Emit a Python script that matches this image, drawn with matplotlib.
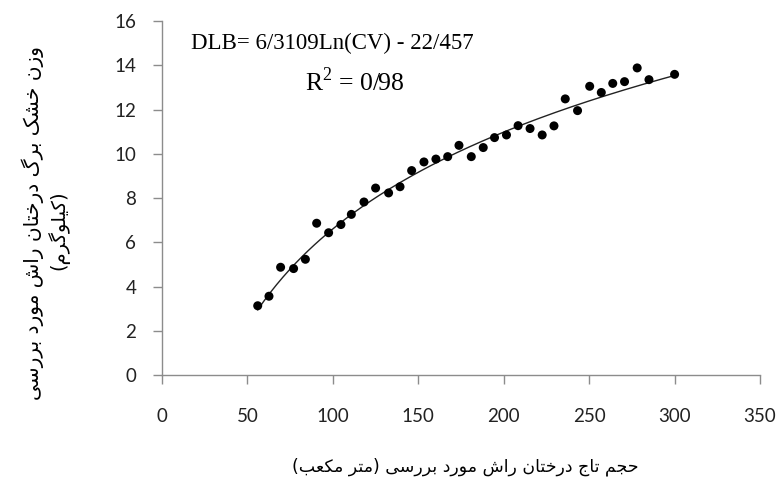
import numpy as np
import matplotlib
matplotlib.use("Agg")
import matplotlib.pyplot as plt

# crown volume (m3) and leaf dry weight (kg)
CV = [56.0, 62.6, 69.4, 77.0, 83.9, 90.5, 97.5, 104.7, 110.8, 118.2,
      125.0, 132.6, 139.3, 146.1, 153.3, 160.3, 167.2, 173.8, 181.0, 188.0,
      194.6, 201.6, 208.4, 215.4, 222.5, 229.4, 236.0, 243.2, 250.3, 257.1,
      263.8, 270.7, 278.1, 285.0, 300.0]
DLB = [3.13, 3.56, 4.87, 4.81, 5.23, 6.86, 6.43, 6.80, 7.26, 7.82,
       8.45, 8.23, 8.51, 9.24, 9.63, 9.76, 9.87, 10.38, 9.87, 10.28,
       10.73, 10.85, 11.27, 11.14, 10.85, 11.26, 12.48, 11.95, 13.05, 12.77,
       13.18, 13.26, 13.88, 13.35, 13.59]

# trendline coefficients as printed on the chart
A, B = 6.3109, -22.457

X_TICKS = [0, 50, 100, 150, 200, 250, 300, 350]
Y_TICKS = [0, 2, 4, 6, 8, 10, 12, 14, 16]

EQ_TEXT = "DLB= 6/3109Ln(CV) - 22/457"
R2_TEXT = "R$^2$ = 0/98"
XLABEL = "حجم تاج درختان راش مورد بررسی (متر مکعب)"
YLABEL_1 = "وزن خشک برگ درختان راش مورد بررسی"
YLABEL_2 = "(کیلوگرم)"

# minimal arabic shaping: (isolated, final, initial, medial)
FORMS = {
    "ا": ("\uFE8D", "\uFE8E", None, None),
    "ب": ("\uFE8F", "\uFE90", "\uFE91", "\uFE92"),
    "ت": ("\uFE95", "\uFE96", "\uFE97", "\uFE98"),
    "ج": ("\uFE9D", "\uFE9E", "\uFE9F", "\uFEA0"),
    "ح": ("\uFEA1", "\uFEA2", "\uFEA3", "\uFEA4"),
    "خ": ("\uFEA5", "\uFEA6", "\uFEA7", "\uFEA8"),
    "د": ("\uFEA9", "\uFEAA", None, None),
    "ر": ("\uFEAD", "\uFEAE", None, None),
    "ز": ("\uFEAF", "\uFEB0", None, None),
    "س": ("\uFEB1", "\uFEB2", "\uFEB3", "\uFEB4"),
    "ش": ("\uFEB5", "\uFEB6", "\uFEB7", "\uFEB8"),
    "ع": ("\uFEC9", "\uFECA", "\uFECB", "\uFECC"),
    "ل": ("\uFEDD", "\uFEDE", "\uFEDF", "\uFEE0"),
    "م": ("\uFEE1", "\uFEE2", "\uFEE3", "\uFEE4"),
    "ن": ("\uFEE5", "\uFEE6", "\uFEE7", "\uFEE8"),
    "و": ("\uFEED", "\uFEEE", None, None),
    "ک": ("\uFB8E", "\uFB8F", "\uFB90", "\uFB91"),
    "گ": ("\uFB92", "\uFB93", "\uFB94", "\uFB95"),
    "ی": ("\uFBFC", "\uFBFD", "\uFBFE", "\uFBFF"),
}


def shape(s):
    out = []
    for i, ch in enumerate(s):
        f = FORMS.get(ch)
        if f is None:
            out.append(ch)
            continue
        prev = FORMS.get(s[i - 1]) if i > 0 else None
        nxt = FORMS.get(s[i + 1]) if i + 1 < len(s) else None
        join_prev = prev is not None and prev[2] is not None
        join_next = nxt is not None and f[2] is not None
        if join_prev and join_next:
            out.append(f[3])
        elif join_prev:
            out.append(f[1])
        elif join_next:
            out.append(f[2])
        else:
            out.append(f[0])
    vis = "".join(reversed(out))
    return vis.translate(str.maketrans("()", ")("))


plt.rcParams["mathtext.fontset"] = "custom"
plt.rcParams["mathtext.rm"] = "Liberation Serif"

fig = plt.figure(figsize=(7.82, 4.90), dpi=100)
ax = fig.add_axes([0.2072, 0.2347, 0.7647, 0.7224])

xs = np.linspace(min(CV), max(CV), 200)
ax.plot(xs, A * np.log(xs) + B, color="#222222", lw=1.0, zorder=2)
ax.scatter(CV, DLB, s=42, color="black", edgecolors="none", zorder=3)

ax.set_xlim(0, 350)
ax.set_ylim(0, 16)
ax.set_xticks(X_TICKS)
ax.set_yticks(Y_TICKS)
for side in ["top", "right"]:
    ax.spines[side].set_visible(False)
for side in ["left", "bottom"]:
    ax.spines[side].set_color("#8c8c8c")
    ax.spines[side].set_linewidth(1.0)
ax.tick_params(axis="both", direction="out", length=6.5, width=1.0,
               color="#8c8c8c", labelsize=13.5, labelcolor="#222222")
ax.tick_params(axis="y", pad=12)
ax.tick_params(axis="x", pad=17)
for lab in ax.get_xticklabels() + ax.get_yticklabels():
    lab.set_fontfamily("Lato")

fig.text(191 / 782, 1 - 43 / 490, EQ_TEXT, family="Liberation Serif",
         fontsize=16.5, va="center", ha="left", color="black")
fig.text(305 / 782, 1 - 82 / 490, R2_TEXT, family="Liberation Serif",
         fontsize=18.5, va="center", ha="left", color="black")

fig.text(465 / 782, 1 - 467 / 490, shape(XLABEL), family="DejaVu Sans",
         fontsize=12.5, ha="center", va="center")
fig.text(33 / 782, 1 - 223 / 490, shape(YLABEL_1), family="DejaVu Sans",
         fontsize=14.5, ha="center", va="center", rotation=90)
fig.text(58 / 782, 1 - 230 / 490, shape(YLABEL_2), family="DejaVu Sans",
         fontsize=14, ha="center", va="center", rotation=90)

fig.savefig("out.png", dpi=100)
